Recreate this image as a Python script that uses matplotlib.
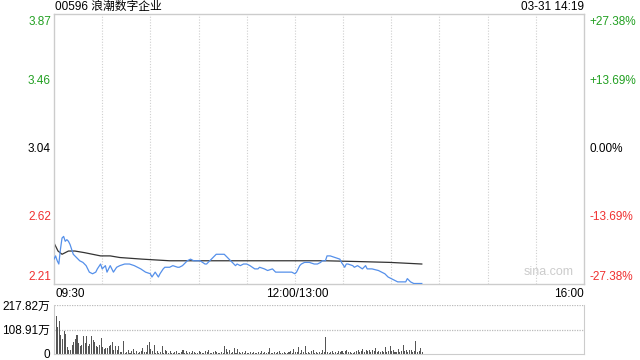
import matplotlib
matplotlib.use("Agg")
import matplotlib.pyplot as plt

plt.rcParams['font.family'] = ['Liberation Sans', 'Noto Sans CJK SC', 'DejaVu Sans']

title = "00596 浪潮数字企业"
stamp = "03-31 14:19"

# minutes since 09:30 (trading minutes, lunch break removed)
price_min = [0, 1, 2, 3, 4, 5, 6, 7, 8, 9, 10, 11, 12, 14, 16, 18, 20, 22, 24, 26,
             27, 29, 30, 32, 33, 35, 37, 39, 41, 44, 47, 50, 54, 57, 60, 61, 63, 65, 66, 68,
             69, 72, 74, 77, 78, 80, 82, 83, 85, 87, 89, 91, 94, 95, 97, 99, 101, 103, 106, 108,
             110, 111, 113, 114, 116, 118, 120, 122, 125, 127, 128, 131, 133, 136, 138, 141, 144, 146, 147, 148,
             150, 151, 153, 154, 156, 159, 162, 164, 166, 167, 169, 170, 172, 175, 178, 179, 181, 182, 183, 186,
             187, 189, 192, 194, 195, 198, 202, 204, 206, 208, 210, 212, 214, 217, 219, 220, 222, 224, 228, 229]
price = [2.36, 2.38, 2.35, 2.33, 2.42, 2.49, 2.50, 2.47, 2.48, 2.47, 2.45, 2.42, 2.39, 2.37, 2.35, 2.34, 2.32, 2.28, 2.27, 2.28,
         2.30, 2.33, 2.30, 2.32, 2.28, 2.32, 2.28, 2.31, 2.32, 2.33, 2.33, 2.32, 2.30, 2.28, 2.27, 2.25, 2.28, 2.25, 2.27, 2.30,
         2.31, 2.31, 2.32, 2.31, 2.31, 2.32, 2.34, 2.35, 2.36, 2.35, 2.35, 2.35, 2.33, 2.33, 2.35, 2.37, 2.39, 2.39, 2.39, 2.37,
         2.35, 2.34, 2.32, 2.33, 2.32, 2.33, 2.33, 2.32, 2.30, 2.30, 2.31, 2.30, 2.29, 2.30, 2.28, 2.28, 2.28, 2.28, 2.28, 2.28,
         2.27, 2.28, 2.32, 2.33, 2.34, 2.34, 2.33, 2.33, 2.34, 2.35, 2.35, 2.38, 2.38, 2.37, 2.36, 2.34, 2.31, 2.33, 2.33, 2.32,
         2.31, 2.32, 2.30, 2.32, 2.30, 2.30, 2.29, 2.28, 2.27, 2.25, 2.24, 2.23, 2.22, 2.22, 2.22, 2.24, 2.22, 2.21, 2.21, 2.21]

avg_min = [0, 2.5, 5, 9, 13, 19, 29, 35, 41, 55, 72, 112, 169, 190, 209, 229]
avg_price = [2.46, 2.41, 2.39, 2.41, 2.41, 2.40, 2.38, 2.38, 2.37, 2.36, 2.35, 2.35, 2.35, 2.345, 2.34, 2.33]

# volume per minute, in 万 shares
volume = [218, 170, 120, 148, 86, 67, 101, 89, 30, 19,
          16, 41, 55, 67, 86, 49, 37, 40, 81, 49,
          79, 37, 45, 81, 61, 52, 34, 30, 41, 71,
          31, 22, 25, 27, 34, 41, 52, 20, 34, 19,
          34, 7, 10, 56, 4, 7, 19, 6, 12, 22,
          4, 12, 5, 7, 12, 27, 7, 8, 41, 52,
          22, 12, 41, 6, 12, 4, 7, 34, 5, 19,
          12, 4, 12, 5, 4, 7, 12, 4, 6, 7,
          19, 4, 12, 5, 7, 4, 12, 7, 5, 4,
          12, 7, 4, 6, 12, 7, 19, 4, 5, 7,
          12, 7, 4, 6, 7, 4, 34, 22, 8, 16,
          4, 7, 27, 6, 22, 8, 5, 8, 4, 12,
          6, 4, 8, 5, 10, 4, 6, 8, 4, 12,
          5, 7, 4, 9, 28, 6, 4, 8, 5, 7,
          12, 4, 6, 9, 5, 4, 8, 12, 5, 22,
          7, 10, 33, 6, 20, 8, 36, 5, 9, 6,
          12, 18, 4, 8, 6, 10, 5, 18, 7, 77,
          10, 5, 8, 12, 6, 9, 5, 15, 8, 12,
          6, 14, 20, 7, 10, 6, 5, 9, 12, 18,
          8, 15, 22, 10, 16, 12, 20, 8, 18, 14,
          25, 10, 15, 7, 12, 9, 33, 10, 14, 36,
          12, 18, 9, 8, 22, 11, 14, 40, 12, 20,
          8, 16, 18, 10, 14, 58, 8, 12, 25, 10]

y_ticks = [3.87, 3.46, 3.04, 2.62, 2.21]
pct_labels = ["+27.38%", "+13.69%", "0.00%", "-13.69%", "-27.38%"]
vol_ticks = [0, 108.91, 217.82]
vol_labels = ["0", "108.91万", "217.82万"]

GREEN = '#22a022'
RED = '#f03030'
tick_colors = [GREEN, GREEN, 'black', RED, RED]
BORDER = '#cccccc'

fig = plt.figure(figsize=(6.4, 3.6), dpi=100)
fs = 8.5

# ---- price panel
ax = fig.add_axes([54 / 640, 1 - 283.5 / 360, 530 / 640, 269.5 / 360])
ax.set_xlim(0, 330)
ax.set_ylim(y_ticks[-1], y_ticks[0])
for x in range(30, 330, 30):
    ax.axvline(x, color='#cfcfcf', lw=0.8, ls=(0, (1, 1.5)), zorder=0)
ax.plot(price_min, price, color='#5590ea', lw=0.9, zorder=3)
ax.plot(avg_min, avg_price, color='#333333', lw=0.9, zorder=2)
ax.set_xticks([])
ax.set_yticks([])
for s in ax.spines.values():
    s.set_color(BORDER)
    s.set_linewidth(1)

trans = ax.get_yaxis_transform()
for i, (v, lab, c) in enumerate(zip(y_ticks, pct_labels, tick_colors)):
    va = 'top' if i == 0 else ('bottom' if i == len(y_ticks) - 1 else 'center')
    dy = -2 if i == 0 else 0
    ax.annotate(f"{v:.2f}", (0, v), xycoords=trans, xytext=(-3, dy), textcoords='offset pixels',
                ha='right', va=va, color=c, fontsize=fs)
    ax.annotate(lab, (1, v), xycoords=trans, xytext=(5, dy), textcoords='offset pixels',
                ha='left', va=va, color=c, fontsize=fs)

ax.text(0.98, 0.02, "sina.com", transform=ax.transAxes, ha='right', va='bottom',
        color='#cccccc', fontsize=fs + 0.5)

# time labels
fig.text(55 / 640, 1 - 294 / 360, "09:30", ha='left', va='center', fontsize=fs)
fig.text(297 / 640, 1 - 294 / 360, "12:00/13:00", ha='center', va='center', fontsize=fs)
fig.text(584 / 640, 1 - 294 / 360, "16:00", ha='right', va='center', fontsize=fs)

fig.text(55 / 640, 1 - 7 / 360, title, ha='left', va='center', fontsize=fs)
fig.text(584 / 640, 1 - 7 / 360, stamp, ha='right', va='center', fontsize=fs)

# ---- volume panel
vx = fig.add_axes([54 / 640, 1 - 354 / 360, 530 / 640, 49 / 360])
vx.set_xlim(0, 330)
vx.set_ylim(0, vol_ticks[-1])
vx.bar(range(len(volume)), volume, width=0.65, color='#555555', align='edge')
for v in vol_ticks[1:]:
    vx.axhline(v, color='#bbbbbb', lw=0.9, ls=(0, (1, 1)), zorder=0)
vx.set_xticks([])
vx.set_yticks(vol_ticks)
vx.set_yticklabels(vol_labels, fontsize=fs)
vx.tick_params(axis='y', length=0, pad=3)
for s in vx.spines.values():
    s.set_color(BORDER)
vx.spines['top'].set_visible(False)

fig.savefig("out.png", dpi=100)
